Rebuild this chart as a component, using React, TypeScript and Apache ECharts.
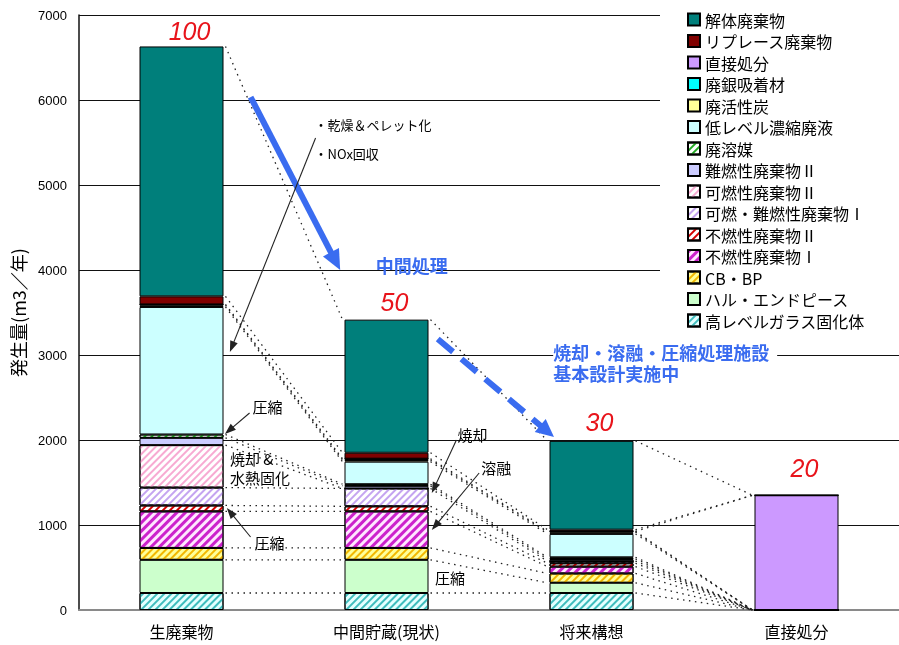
import React, { useEffect, useRef } from 'react';
import * as echarts from 'echarts';

// Annual radioactive waste volumes (m3/year) per stage
const categories = ['生廃棄物', '中間貯蔵(現状)', '将来構想', '直接処分'];

const glassWaste = [200, 200, 200, 0];
const hullEndPiece = [390, 390, 120, 0];
const cbBp = [140, 140, 110, 0];
const nonCombustible1 = [430, 430, 80, 0];
const nonCombustible2 = [70, 60, 40, 0];
const combustibleMixed1 = [210, 210, 25, 0];
const combustible2 = [500, 0, 0, 0];
const flameRetardant2 = [85, 30, 25, 0];
const spentSolvent = [40, 20, 20, 0];
const lowLevelLiquid = [1500, 265, 275, 0];
const spentCarbon = [20, 20, 20, 0];
const silverAdsorbent = [10, 15, 10, 0];
const directDisposal = [0, 0, 0, 1350];
const replacementWaste = [95, 70, 20, 0];
const demolitionWaste = [2940, 1566, 1045, 0];

// Relative volume (raw waste = 100) printed above each column
const shareLabels = ['100', '50', '30', '20'];

const yMax = 7000;
const yStep = 1000;

type Layer = { name: string; data: number[]; color: string; stripe?: string; stripeW?: number };

// bottom → top stacking order
const layers: Layer[] = [
  { name: '高レベルガラス固化体', data: glassWaste, color: '#e4ffff', stripe: '#3fbcbc' },
  { name: 'ハル・エンドピース', data: hullEndPiece, color: '#ccffcc' },
  { name: 'CB・BP', data: cbBp, color: '#ffff99', stripe: '#f2b800' },
  { name: '不燃性廃棄物Ⅰ', data: nonCombustible1, color: '#ffe6ff', stripe: '#cc22cc', stripeW: 3 },
  { name: '不燃性廃棄物Ⅱ', data: nonCombustible2, color: '#ffffff', stripe: '#d40000' },
  { name: '可燃・難燃性廃棄物Ⅰ', data: combustibleMixed1, color: '#ffffff', stripe: '#c4a4f0' },
  { name: '可燃性廃棄物Ⅱ', data: combustible2, color: '#ffffff', stripe: '#f7aad2' },
  { name: '難燃性廃棄物Ⅱ', data: flameRetardant2, color: '#ccccff' },
  { name: '廃溶媒', data: spentSolvent, color: '#ffffff', stripe: '#22aa22' },
  { name: '低レベル濃縮廃液', data: lowLevelLiquid, color: '#ccffff' },
  { name: '廃活性炭', data: spentCarbon, color: '#ffff99' },
  { name: '廃銀吸着材', data: silverAdsorbent, color: '#00ffff' },
  { name: '直接処分', data: directDisposal, color: '#cc99ff' },
  { name: 'リプレース廃棄物', data: replacementWaste, color: '#800000' },
  { name: '解体廃棄物', data: demolitionWaste, color: '#007f7b' },
];

// Annotations, placed in axis space: [category position, value]
type Pt = [number, number];
const arrows: { from: Pt; to: Pt; kind: 'blue' | 'blueDash' | 'thin' }[] = [
  { from: [0.337, 6035], to: [0.774, 4000], kind: 'blue' },
  { from: [1.25, 3188], to: [1.817, 2035], kind: 'blueDash' },
  { from: [0.654, 5553], to: [0.236, 3035], kind: 'thin' },
  { from: [0.332, 2318], to: [0.212, 2071], kind: 'thin' },
  { from: [0.337, 859], to: [0.221, 1200], kind: 'thin' },
  { from: [1.341, 2000], to: [1.221, 1376], kind: 'thin' },
  { from: [1.452, 1612], to: [1.221, 941], kind: 'thin' },
];

const notes: { text: string; at: Pt; kind: 'small' | 'note' | 'blue' | 'blueBox' }[] = [
  { text: '・乾燥＆ペレット化', at: [0.649, 5706], kind: 'small' },
  { text: '・NOx回収', at: [0.649, 5376], kind: 'small' },
  { text: '圧縮', at: [0.346, 2400], kind: 'note' },
  { text: '焼却 &', at: [0.236, 1788], kind: 'note' },
  { text: '水熱固化', at: [0.236, 1553], kind: 'note' },
  { text: '圧縮', at: [0.356, 800], kind: 'note' },
  { text: '焼却', at: [1.346, 2059], kind: 'note' },
  { text: '溶融', at: [1.462, 1671], kind: 'note' },
  { text: '圧縮', at: [1.236, 388], kind: 'note' },
  { text: '中間処理', at: [0.947, 4059], kind: 'blue' },
  { text: '焼却・溶融・圧縮処理施設', at: [1.813, 3040], kind: 'blueBox' },
  { text: '基本設計実施中', at: [1.813, 2785], kind: 'blue' },
];

const JP = "'Noto Sans CJK JP', 'Noto Sans', sans-serif";
const LAT = "'Liberation Sans', Arial, sans-serif";
const BAR_W = 84;
const BLUE = '#3a6cf0';

function arrowEls(p1: number[], p2: number[], color: string, width: number, headLen: number, headW: number, dash?: number[]) {
  const dx = p2[0] - p1[0];
  const dy = p2[1] - p1[1];
  const len = Math.hypot(dx, dy);
  const ux = dx / len;
  const uy = dy / len;
  const bx = p2[0] - ux * headLen;
  const by = p2[1] - uy * headLen;
  const nx = -uy;
  const ny = ux;
  return [
    {
      type: 'line',
      silent: true,
      z: 20,
      shape: { x1: p1[0], y1: p1[1], x2: bx + ux * 2, y2: by + uy * 2 },
      style: { stroke: color, lineWidth: width, lineDash: dash || null },
    },
    {
      type: 'polygon',
      silent: true,
      z: 20,
      shape: {
        points: [
          [p2[0], p2[1]],
          [bx + (nx * headW) / 2, by + (ny * headW) / 2],
          [bx - (nx * headW) / 2, by - (ny * headW) / 2],
        ],
      },
      style: { fill: color },
    },
  ];
}

export default function App() {
  const ref = useRef<HTMLDivElement>(null);

  useEffect(() => {
    if (!ref.current) return;
    const chart = echarts.init(ref.current, undefined, { renderer: 'svg' });

    const series = layers.map((l) => ({
      name: l.name,
      type: 'bar',
      stack: 'total',
      barWidth: BAR_W,
      data: l.data,
      emphasis: { disabled: true },
      itemStyle: {
        color: l.color,
        borderColor: '#000',
        borderWidth: 1,
        decal: l.stripe
          ? {
              symbol: 'rect',
              symbolSize: 1,
              color: l.stripe,
              dashArrayX: [1, 0],
              dashArrayY: [l.stripeW || 2, 3],
              rotation: -Math.PI / 4,
            }
          : undefined,
      },
    }));

    chart.setOption({
      animation: false,
      grid: { left: 79, top: 15, width: 832, height: 595, containLabel: false },
      legend: {
        data: layers.map((l) => l.name).reverse(),
        orient: 'vertical',
        left: 660,
        top: 0,
        padding: [11, 60, 6, 27],
        itemWidth: 12,
        itemHeight: 12,
        itemGap: 4.5,
        icon: 'rect',
        backgroundColor: '#ffffff',
        selectedMode: false,
        textStyle: { fontSize: 16, lineHeight: 17, color: '#000', fontFamily: JP },
      },
      xAxis: {
        type: 'category',
        data: categories,
        axisTick: { show: false },
        axisLine: { lineStyle: { color: '#8a8a8a', width: 2 } },
        axisLabel: { fontSize: 16, color: '#000', margin: 13, fontFamily: JP },
      },
      yAxis: {
        type: 'value',
        min: 0,
        max: yMax,
        interval: yStep,
        name: '発生量(m3／年)',
        nameLocation: 'middle',
        nameGap: 49,
        nameTextStyle: { fontSize: 18, color: '#000', fontFamily: JP },
        axisLine: { show: true, lineStyle: { color: '#111', width: 1.5 } },
        axisTick: { show: false },
        axisLabel: {
          fontSize: 13,
          color: '#000',
          margin: 12,
          fontFamily: LAT,
          formatter: (v: number) => String(v),
        },
        splitLine: { lineStyle: { color: '#111', width: 1 } },
      },
      series,
    });

    // pixel helpers driven by the axes
    const cx0 = chart.convertToPixel({ xAxisIndex: 0 }, categories[0]) as number;
    const cx1 = chart.convertToPixel({ xAxisIndex: 0 }, categories[1]) as number;
    const toX = (c: number) => cx0 + (cx1 - cx0) * c;
    const toY = (v: number) => chart.convertToPixel({ yAxisIndex: 0 }, v) as number;
    const half = BAR_W / 2;

    const graphics: any[] = [];

    // cumulative stack boundaries per column
    const bounds = categories.map((_, ci) => {
      let acc = 0;
      const b = [0];
      layers.forEach((l) => {
        acc += l.data[ci];
        b.push(acc);
      });
      return b;
    });

    // dotted connectors between neighbouring columns
    for (let ci = 0; ci < categories.length - 1; ci++) {
      for (let k = 1; k <= layers.length; k++) {
        const a = layers[k - 1].data[ci];
        const b = layers[k - 1].data[ci + 1];
        if (a === 0 && b === 0) continue;
        graphics.push({
          type: 'line',
          silent: true,
          z: 5,
          shape: {
            x1: toX(ci) + half + 2,
            y1: toY(bounds[ci][k]),
            x2: toX(ci + 1) - half - 2,
            y2: toY(bounds[ci + 1][k]),
          },
          style: { stroke: '#222', lineWidth: 1.3, lineDash: [1.5, 4.5] },
        });
      }
    }

    // share labels above each column
    const lift = [15, 18, 19, 27];
    categories.forEach((_, ci) => {
      const total = bounds[ci][layers.length];
      graphics.push({
        type: 'text',
        silent: true,
        z: 30,
        x: toX(ci) + 8,
        y: toY(total) - lift[ci],
        style: {
          text: shareLabels[ci],
          fill: '#e8141b',
          fontSize: 25,
          fontStyle: 'italic',
          fontFamily: LAT,
          align: 'center',
          verticalAlign: 'middle',
        },
      });
    });

    arrows.forEach((a) => {
      const p1 = [toX(a.from[0]), toY(a.from[1])];
      const p2 = [toX(a.to[0]), toY(a.to[1])];
      if (a.kind === 'blue') graphics.push(...arrowEls(p1, p2, BLUE, 6, 20, 18));
      else if (a.kind === 'blueDash') graphics.push(...arrowEls(p1, p2, BLUE, 6, 18, 17, [20, 11]));
      else graphics.push(...arrowEls(p1, p2, '#222', 1.1, 11, 8));
    });

    notes.forEach((n) => {
      const base: any = {
        text: n.text,
        fill: '#000',
        fontFamily: JP,
        align: 'left',
        verticalAlign: 'middle',
      };
      if (n.kind === 'small') Object.assign(base, { fontSize: 13 });
      if (n.kind === 'note') Object.assign(base, { fontSize: 15 });
      if (n.kind === 'blue' || n.kind === 'blueBox')
        Object.assign(base, { fontSize: 18, fontWeight: 'bold', fill: BLUE });
      if (n.kind === 'blueBox') Object.assign(base, { backgroundColor: '#fff', padding: [0, 8, 0, 0] });
      graphics.push({
        type: 'text',
        silent: true,
        z: 30,
        x: toX(n.at[0]),
        y: toY(n.at[1]),
        style: base,
      });
    });

    chart.setOption({ graphic: graphics });

    return () => chart.dispose();
  }, []);

  return <div ref={ref} style={{ position: 'fixed', left: 0, top: 0, width: 899, height: 645 }} />;
}
